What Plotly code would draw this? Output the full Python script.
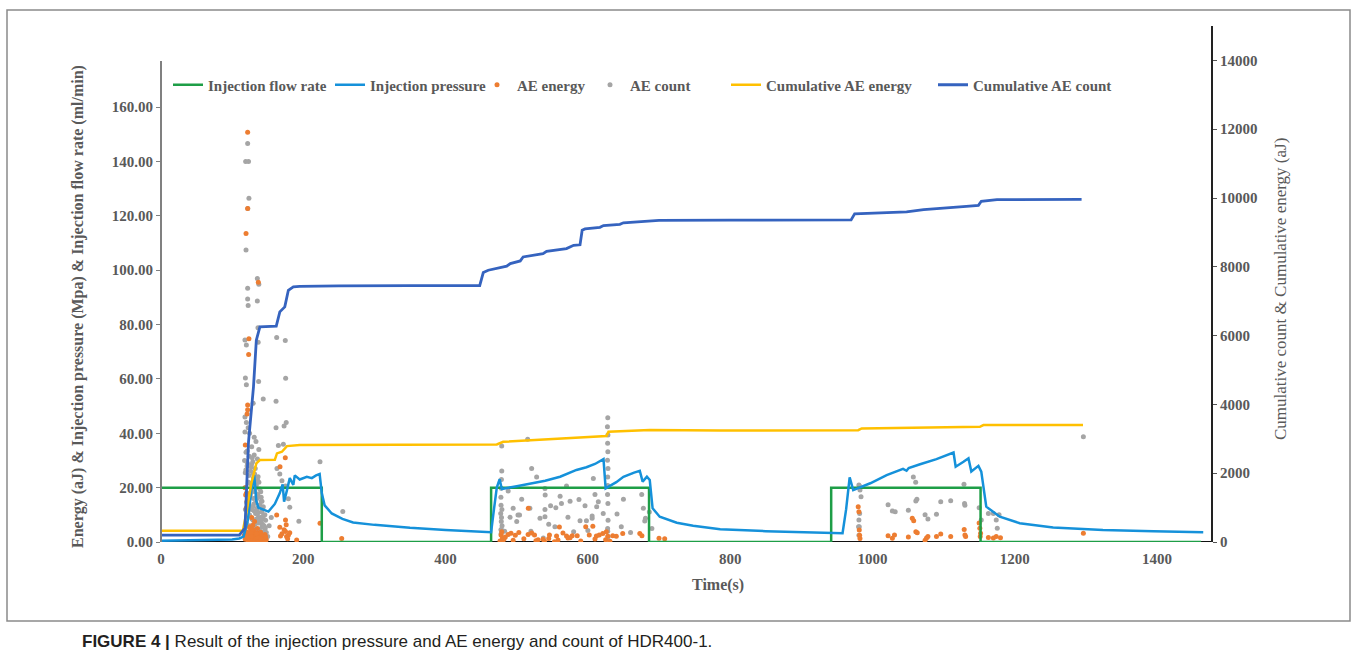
import plotly.graph_objects as go

# ---------------- data ----------------
flow_t = [0, 226, 226, 464, 464, 686, 686, 942, 942, 1152, 1152, 1462]
flow_v = [20, 20, 0, 0, 20, 20, 0, 0, 20, 20, 0, 0]

press_t = [0, 50, 100, 110, 116, 122, 127, 131, 134, 137, 145, 151, 160, 167, 171, 173, 177, 181, 186, 188,
           195, 205, 212, 218, 223, 226, 230, 240, 255, 270, 300, 350, 400, 440, 464, 468, 472, 476, 479,
           500, 521, 540, 561, 584, 598, 610, 622, 625, 640, 650, 665, 673, 677, 683, 687, 691, 701, 725,
           748, 786, 850, 900, 958, 963, 968, 973, 997, 1020, 1043, 1048, 1051, 1067, 1090, 1114, 1117,
           1128, 1135, 1139, 1149, 1153, 1160, 1179, 1207, 1254, 1324, 1395, 1465]
press_v = [0.5, 0.6, 0.9, 1.3, 2.0, 8.0, 19.0, 24.6, 15.0, 12.6, 11.8, 11.2, 14.0, 18.0, 21.2, 14.8, 19.0,
           23.5, 21.0, 24.5, 23.0, 24.0, 23.5, 24.5, 25.0, 18.0, 13.5, 10.5, 8.5, 7.2, 6.3, 5.2, 4.4, 3.8,
           3.6, 12.0, 20.0, 23.1, 19.5, 20.5, 21.6, 22.5, 24.0, 26.5, 27.5, 28.7, 30.5, 19.7, 22.0, 24.0,
           25.5, 26.2, 22.2, 24.0, 22.8, 12.4, 9.3, 7.1, 6.0, 4.7, 4.0, 3.6, 3.2, 12.0, 23.8, 19.1, 21.6,
           24.6, 26.9, 26.2, 27.2, 28.6, 30.5, 32.9, 27.7, 29.5, 30.8, 25.9, 28.0, 25.9, 13.0, 9.3, 6.9,
           5.3, 4.4, 4.0, 3.6]

cum_count_t = [0, 110, 118, 123, 130, 134, 139, 162, 167, 171, 174, 179, 186, 195, 250, 350, 448, 453, 460,
               486, 491, 505, 509, 537, 542, 570, 580, 589, 592, 596, 617, 622, 645, 650, 687, 700, 800,
               900, 970, 975, 1000, 1048, 1072, 1102, 1132, 1149, 1153, 1175, 1294]
cum_count_v = [200, 200, 400, 2913, 4511, 5867, 6254, 6273, 6690, 6758, 6835, 7319, 7415, 7430, 7445, 7450,
               7450, 7833, 7900, 8017, 8094, 8171, 8287, 8385, 8452, 8530, 8626, 8640, 9062, 9100, 9149,
               9200, 9236, 9280, 9330, 9350, 9355, 9360, 9365, 9540, 9560, 9594, 9663, 9721, 9759, 9788,
               9904, 9953, 9962]

cum_energy_t = [0, 115, 120, 127, 134, 139, 160, 163, 170, 177, 195, 300, 450, 472, 481, 626, 629, 687,
                786, 926, 980, 985, 1151, 1156, 1296]
cum_energy_v = [330, 330, 842, 1704, 2285, 2382, 2390, 2576, 2623, 2788, 2817, 2817, 2817, 2837, 2913,
                3079, 3204, 3253, 3240, 3240, 3250, 3302, 3350, 3398, 3398]

energy_t = [121.8, 119.5, 121.8, 136.8, 123.6, 123.2, 121.8, 121.8, 121.0, 118.5, 174.7, 167.3, 120.0,
            121.0, 119.0, 162.6, 175.0, 176.0, 167.0, 175.0, 176.5, 170.0, 179.0, 190.7, 223.5, 254.0,
            117.0, 119.0, 121.0, 122.0, 123.5, 125.0, 126.0, 127.0, 128.0, 129.5, 130.0, 131.0, 132.0,
            133.0, 134.0, 135.0, 136.0, 137.5, 138.0, 139.0, 140.0, 141.0, 142.5, 144.0, 146.0, 148.0,
            124.0, 126.5, 129.0, 132.5, 135.5, 138.5, 131.5, 127.5,
            118.5, 120.5, 122.5, 124.5, 126.0, 128.5, 130.5, 133.5, 136.5, 139.5, 141.5, 143.0, 145.0,
            147.0, 125.5, 127.0, 129.0, 134.5, 137.0, 140.5, 120.0, 118.0, 173.0, 178.0, 181.0, 168.0,
            478.0, 480.0, 476.5, 488.0, 492.0, 498.0, 503.0, 516.3, 516.0, 521.0, 525.0, 537.0, 539.0,
            553.0, 546.0, 556.0, 560.0, 565.0, 570.0, 572.0, 578.0, 585.0, 597.0, 602.0, 607.0, 612.0,
            616.0, 621.0, 626.0, 628.0, 635.0, 640.0, 649.0, 673.0, 676.0, 700.0, 708.0, 482.0, 530.0,
            479.0, 481.0, 484.0, 495.0, 510.0, 527.0, 545.0, 558.0, 575.0, 590.0, 610.0, 625.0, 631.0,
            980.0, 981.0, 981.5, 982.0, 982.5, 1056.0, 1058.0, 1061.0, 1063.0, 1129.0, 1130.0, 1131.0,
            1022.0, 1031.0, 1028.0, 1050.5, 1074.0, 1076.0, 1078.0, 1090.0, 1096.0, 1110.0, 1150.0,
            1151.0, 1152.0, 1151.5, 1163.0, 1170.0, 1174.0, 1180.0, 1296.5]
energy_v = [150.7, 113.5, 122.7, 95.5, 74.8, 69.0, 50.4, 48.6, 47.1, 35.7, 31.0, 27.7, 17.9, 15.0, 17.3,
            9.9, 8.1, 6.3, 5.4, 3.9, 2.0, 3.0, 2.5, 0.7, 6.9, 1.3,
            2.5, 4.0, 1.5, 3.2, 0.8, 2.4, 4.3, 1.1, 3.0, 0.5, 2.0, 3.8, 1.2, 2.7, 0.4, 1.8, 3.3, 0.9, 2.2,
            1.5, 3.6, 0.6, 2.0, 1.0, 2.8, 0.8,
            5.5, 4.8, 6.2, 1.0, 5.0, 0.3, 7.5, 9.0,
            1.0, 2.2, 0.3, 1.7, 3.5, 1.4, 0.2, 2.9, 1.6, 0.4, 2.4, 1.2, 0.3, 1.9, 0.6, 2.0, 4.6, 3.0, 0.2,
            1.1, 12.5, 20.0, 4.5, 1.2, 3.4, 2.2,
            2.6, 1.5, 0.4, 2.8, 3.2, 2.5, 3.5, 12.4, 2.8, 3.3, 2.6, 1.0, 0.3, 0.1, 2.6, 2.2, 5.5, 3.3,
            2.2, 1.5, 2.3, 2.3, 5.6, 2.6, 5.8, 2.2, 2.6, 3.1, 3.8, 2.1, 2.3, 2.1, 3.1, 3.1, 2.3, 1.4,
            1.2, 1.0, 0.8,
            3.8, 0.9, 1.8, 0.6, 1.2, 0.5, 1.3, 0.7, 1.6, 0.4, 1.1, 0.8, 0.3,
            13.0, 11.1, 4.4, 2.5, 1.3, 8.7, 7.8, 3.8, 3.4, 4.6, 2.6, 2.0, 2.3, 2.6, 1.4, 1.8, 0.6, 1.5,
            2.0, 2.0, 2.9, 2.0, 7.0, 5.1, 3.2, 2.0, 1.7, 1.5, 2.0, 1.6, 3.2]

count_t = [121.8, 119.0, 123.0, 123.6, 122.0, 119.5, 135.4, 137.5, 121.8, 121.8, 122.5, 135.4, 136.3,
           136.6, 162.6, 174.7, 118.0, 120.0, 175.2, 118.6, 120.0, 137.2, 143.7, 129.6, 161.7, 118.0,
           120.0, 122.5, 124.5, 161.7, 176.0, 173.0, 223.5, 255.5, 193.8, 163.0, 167.0, 170.0, 175.0,
           179.0, 181.0, 165.0, 172.0,
           117.5, 118.5, 119.0, 119.5, 120.5, 121.0, 122.0, 123.0, 124.0, 125.0, 125.5, 126.0, 127.0,
           127.5, 128.0, 128.5, 129.0, 129.5, 130.0, 130.5, 131.0, 131.5, 132.0, 132.5, 133.0, 133.5,
           134.0, 134.5, 135.0, 135.5, 136.0, 136.5, 137.0, 137.5, 138.0, 139.0, 140.0, 141.0, 142.0,
           143.0, 144.0, 145.0, 146.0, 128.0, 130.0, 132.0, 134.0, 136.0, 126.0, 129.0, 133.0, 138.0,
           140.5, 142.5, 127.0, 131.0,
           118.0, 118.7, 119.3, 120.1, 120.8, 121.4, 122.2, 122.9, 123.5, 124.3, 125.1, 125.8, 126.4,
           127.2, 127.9, 128.6, 129.3, 130.1, 130.8, 131.6, 132.3, 133.1, 133.8, 134.6, 135.3, 136.1,
           136.8, 137.6, 138.4, 139.2, 140.0, 140.8, 141.6, 142.4, 143.3, 144.2, 145.5, 147.0, 119.6,
           121.2, 123.8, 126.9, 129.8, 132.8, 135.8, 138.9, 141.9, 144.8, 124.8, 128.2, 131.2, 134.2,
           137.2, 140.2, 143.8, 146.5, 148.0, 150.0, 152.0, 155.0,
           627.9, 628.0, 627.5, 628.2, 627.8, 628.1, 627.6, 628.3, 627.9, 628.0, 627.7, 628.2, 686.4,
           515.4, 478.9, 479.0, 478.5, 478.2, 477.8, 478.0, 477.5, 478.3, 477.9, 537.4, 521.0, 607.7,
           528.0, 539.7, 570.0, 488.0, 507.0, 540.0, 561.0, 575.0, 587.5, 610.0, 650.0, 675.7, 678.0,
           518.5, 539.7, 547.6, 555.0, 596.0, 614.7, 612.4, 621.6, 495.0, 504.0, 501.8, 562.9, 572.0,
           606.0, 641.0, 490.6, 539.7, 532.7, 553.7, 589.0, 598.0, 606.0, 647.0, 680.0, 681.0, 500.0,
           520.0, 545.0, 580.0, 600.0, 660.0, 690.0,
           478.4, 479.2, 478.6, 479.4, 478.1, 627.4, 628.4, 627.8, 628.6, 480.5, 483.0,
           981.0, 1296.5, 981.0, 1060.8, 1057.5, 1128.7, 981.5, 982.5, 984.0, 1061.0, 1062.5, 1096.0,
           1110.0, 1130.0, 1129.5, 1150.0, 1022.0, 1032.0, 1050.5, 1028.0, 1078.0, 1090.0, 1074.0,
           1153.0, 1163.0, 1178.0, 1170.0, 1174.0, 1175.5, 981.5, 982.0, 981.0, 980.5]
count_v = [146.6, 140.0, 140.0, 126.4, 122.7, 107.4, 96.9, 94.8, 93.3, 89.4, 87.0, 88.6, 78.8, 73.5, 75.2,
           74.1, 74.3, 72.5, 60.2, 60.3, 57.8, 59.0, 52.6, 51.0, 51.8, 46.0, 44.0, 42.0, 40.0, 42.0, 44.0,
           42.7, 29.5, 11.2, 7.6, 27.0, 25.0, 22.5, 20.6, 15.9, 12.8, 35.5, 36.0,
           30.0, 25.5, 20.0, 33.0, 14.5, 28.0, 9.5, 22.0, 31.5, 6.0, 17.0, 26.0, 12.0, 35.0, 3.5, 19.0,
           29.5, 8.0, 23.5, 14.0, 32.0, 5.0, 18.5, 27.0, 10.5, 37.0, 21.0, 2.5, 16.0, 30.5, 11.0, 24.0,
           7.0, 34.0, 13.5, 19.5, 9.0, 15.0, 5.5, 12.5, 8.5, 4.0, 10.0, 1.5, 25.0, 20.5, 16.5, 22.5, 18.0,
           13.0, 4.5, 7.5, 2.0, 6.5, 3.0, 38.5, 40.5,
           12.0, 26.5, 7.0, 18.0, 29.0, 3.0, 15.5, 24.5, 10.0, 21.5, 1.0, 13.0, 28.5, 8.5, 19.5, 2.0,
           16.0, 11.5, 25.0, 6.5, 14.5, 20.0, 1.5, 12.5, 17.5, 9.0, 22.0, 4.5, 13.5, 7.5, 16.5, 11.0, 6.0,
           9.5, 2.5, 5.5, 8.0, 3.5, 33.5, 17.0, 27.5, 4.0, 22.5, 10.5, 3.0, 15.0, 6.0, 2.0, 31.0, 24.0,
           8.5, 1.0, 18.5, 13.0, 5.0, 3.5, 2.0, 6.0, 9.0, 4.0,
           45.7, 42.4, 39.4, 36.3, 33.2, 30.1, 27.0, 23.9, 20.8, 17.5, 14.2, 11.0, 37.8,
           35.3, 26.1, 23.0, 19.8, 16.5, 13.5, 10.5, 7.5, 4.5, 1.5, 27.0, 23.4, 23.9,
           19.7, 20.6, 18.8, 15.7, 17.3, 16.8, 15.0, 15.6, 17.5, 15.7, 17.5, 12.4, 12.4,
           12.0, 13.3, 12.6, 13.3, 14.8, 13.0, 10.5, 12.4, 9.9, 9.9, 14.2, 9.1, 9.6,
           10.3, 9.1, 9.3, 8.7, 5.6, 7.8, 7.8, 8.7, 5.6, 7.7, 8.7, 7.5, 4.0,
           6.5, 3.8, 4.2, 3.5, 5.0, 4.6,
           12.0, 9.0, 6.0, 3.0, 0.8, 8.0, 5.0, 2.0, 0.6, 4.0, 2.5,
           38.7, 21.0, 22.0, 23.9, 21.2, 20.7, 19.1, 16.6, 15.1, 15.7, 14.8, 15.2,
           13.5, 14.2, 12.6, 13.7, 11.1, 11.7, 11.4, 8.5, 10.2, 10.0, 8.1,
           10.5, 10.0, 10.5, 8.1, 5.1, 5.6, 10.5, 8.1, 5.6, 3.0]

x_ticks = [0, 200, 400, 600, 800, 1000, 1200, 1400]
left_ticks = [0, 20, 40, 60, 80, 100, 120, 140, 160]
right_ticks = [0, 2000, 4000, 6000, 8000, 10000, 12000, 14000]

# ---------------- style ----------------
SERIF = "Liberation Serif"
GREY_TXT = "#595959"
C_FLOW = "#1E9E47"
C_PRESS = "#1591DA"
C_EN = "#ED7D31"
C_CNT = "#A5A5A5"
C_CUME = "#FFC000"
C_CUMC = "#3563BF"

# plot area in pixels
L, R, T, B = 161, 1211, 26, 542
W, H = 1352, 652
left_max = (B - T) / ((542 - 107) / 160.0)
right_max = 15000
pw, ph = R - L, B - T


def px_x(p):
    return (p - L) / pw


def px_y(p):
    return (B - p) / ph


fig = go.Figure()
# points first so the lines lie on top
fig.add_trace(go.Scatter(x=count_t, y=count_v, mode="markers", name="AE count",
                         marker=dict(color=C_CNT, size=5), legend="legend4"))
fig.add_trace(go.Scatter(x=energy_t, y=energy_v, mode="markers", name="AE energy",
                         marker=dict(color=C_EN, size=5), legend="legend3"))
fig.add_trace(go.Scatter(x=flow_t, y=flow_v, mode="lines", name="Injection flow rate",
                         line=dict(color=C_FLOW, width=2.5), legend="legend"))
fig.add_trace(go.Scatter(x=press_t, y=press_v, mode="lines", name="Injection pressure",
                         line=dict(color=C_PRESS, width=2.5), legend="legend2"))
fig.add_trace(go.Scatter(x=cum_energy_t, y=cum_energy_v, mode="lines", name="Cumulative AE energy",
                         line=dict(color=C_CUME, width=2.5), yaxis="y2", legend="legend5"))
fig.add_trace(go.Scatter(x=cum_count_t, y=cum_count_v, mode="lines", name="Cumulative AE count",
                         line=dict(color=C_CUMC, width=2.8), yaxis="y2", legend="legend6"))

tickfont = dict(family=SERIF, size=15, color=GREY_TXT, weight="bold")
legfont = dict(family=SERIF, size=15, color=GREY_TXT, weight="bold")


def leg(text_start_px):
    return dict(orientation="h", x=px_x(text_start_px - 40), y=px_y(85), xanchor="left",
                yanchor="middle", font=legfont, itemwidth=30, bgcolor="rgba(0,0,0,0)")


fig.update_layout(
    width=W, height=H,
    margin=dict(l=L, r=W - R, t=T, b=H - B),
    paper_bgcolor="white", plot_bgcolor="white",
    showlegend=True,
    legend=leg(208), legend2=leg(370), legend3=leg(517),
    legend4=leg(630), legend5=leg(766), legend6=leg(973),
    xaxis=dict(range=[0, (R - L) / ((1157 - 161) / 1400.0)], tickvals=x_ticks,
               showgrid=False, zeroline=False, showline=False, ticks="",
               ticklabelstandoff=6, tickfont=tickfont),
    yaxis=dict(range=[0, left_max], tickvals=left_ticks, tickformat=".2f",
               showgrid=False, zeroline=False, showline=False, ticks="outside",
               ticklen=4, tickcolor="#808080", tickfont=tickfont),
    yaxis2=dict(range=[0, right_max], tickvals=right_ticks, tickformat="d", overlaying="y", side="right",
                showgrid=False, zeroline=False, showline=True, linecolor="#222222", linewidth=2,
                ticks="outside", ticklen=4, tickcolor="#555555", tickfont=tickfont),
)

# x axis line (black) and left axis line (grey, shorter)
fig.add_shape(type="line", xref="paper", yref="y", x0=0, x1=1, y0=0, y1=0,
              line=dict(color="#111111", width=2), layer="below")
fig.add_shape(type="line", xref="paper", yref="paper", x0=0, x1=0, y0=0, y1=px_y(61),
              line=dict(color="#808080", width=2))

# axis titles
fig.add_annotation(text="Time(s)", xref="paper", yref="paper", x=px_x(718), y=px_y(585),
                   xanchor="center", yanchor="middle", showarrow=False,
                   font=dict(family=SERIF, size=16, color=GREY_TXT, weight="bold"))
fig.add_annotation(text="Energy (aJ) & Injection pressure (Mpa) & Injection flow rate (ml/min)",
                   xref="paper", yref="paper", x=px_x(78), y=px_y(307), textangle=-90,
                   xanchor="center", yanchor="middle", showarrow=False,
                   font=dict(family=SERIF, size=16, color=GREY_TXT, weight="bold"))
fig.add_annotation(text="Cumulative count & Cumulative energy (aJ)",
                   xref="paper", yref="paper", x=px_x(1280), y=px_y(289), textangle=-90,
                   xanchor="center", yanchor="middle", showarrow=False,
                   font=dict(family=SERIF, size=17, color=GREY_TXT))

# frame
fig.add_shape(type="rect", xref="paper", yref="paper", x0=px_x(7), x1=px_x(1350),
              y0=px_y(621), y1=px_y(10), line=dict(color="#8a8a8a", width=1.5))

# caption
fig.add_annotation(text="<b>FIGURE 4 |</b> Result of the injection pressure and AE energy and count of HDR400-1.",
                   xref="paper", yref="paper", x=px_x(80), y=px_y(641), xanchor="left", yanchor="middle",
                   showarrow=False, font=dict(family="Liberation Sans", size=17, color="#231F20"))

fig.write_html("out.html", config={"displayModeBar": False},
               post_script="document.body.style.margin='0';")
